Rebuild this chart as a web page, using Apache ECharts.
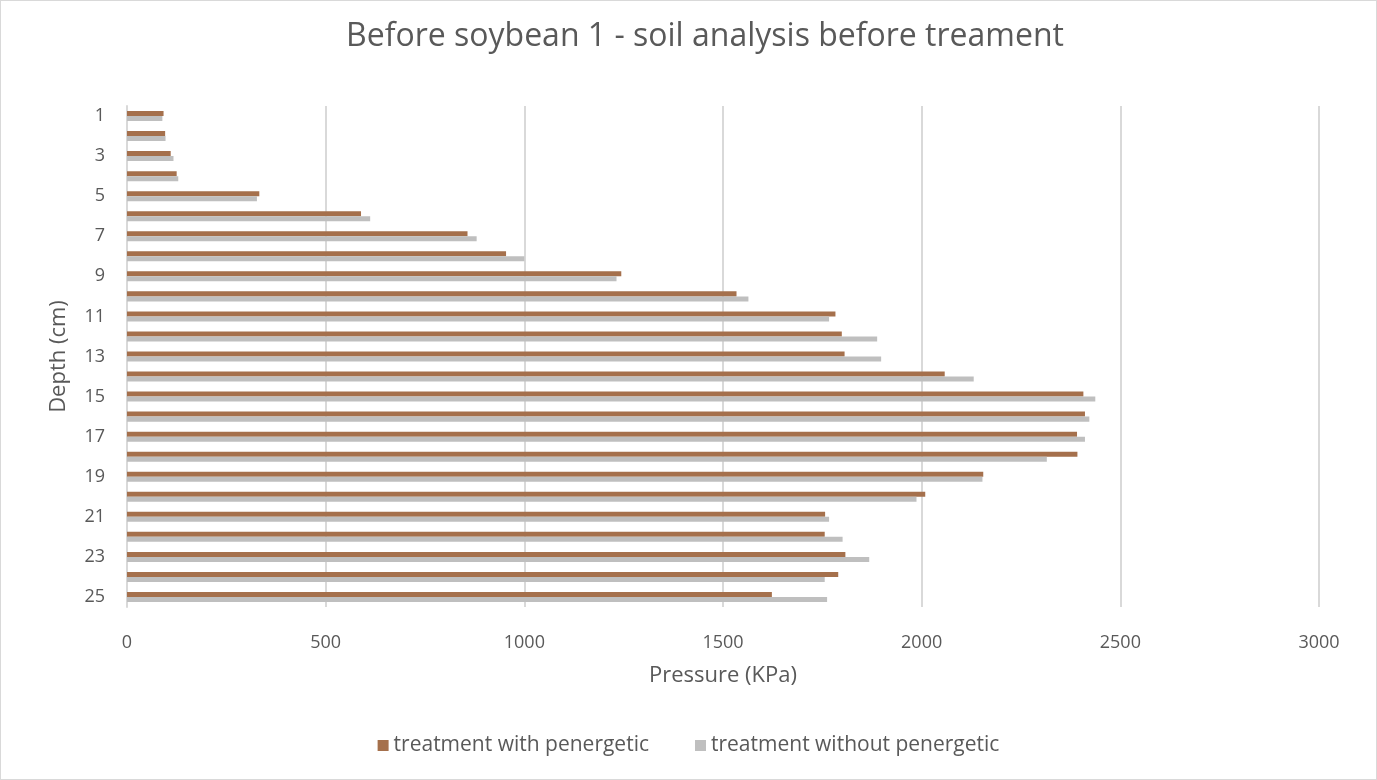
<!DOCTYPE html>
<html>
<head>
<meta charset="utf-8">
<script src="https://cdn.jsdelivr.net/npm/echarts@6/dist/echarts.min.js"></script>
<style>
  html, body { margin: 0; padding: 0; background: #fff; }
  #chart { width: 1375px; height: 778px; border: 1px solid #d9d9d9; }
</style>
</head>
<body>
<div id="chart"></div>
<script>
'use strict';
const depths = ['1', '2', '3', '4', '5', '6', '7', '8', '9', '10', '11', '12', '13',
    '14', '15', '16', '17', '18', '19', '20', '21', '22', '23', '24', '25'];
const withPenergetic = [92, 96, 110, 125, 333, 589, 857, 954, 1244, 1534, 1783, 1799, 1806,
    2058, 2407, 2411, 2391, 2392, 2155, 2009, 1757, 1756, 1808, 1790, 1623];
const withoutPenergetic = [89, 97, 117, 129, 327, 612, 880, 1000, 1232, 1564, 1767, 1888, 1898,
    2131, 2437, 2422, 2411, 2315, 2153, 1987, 1767, 1801, 1868, 1756, 1762];

const font = '"Open Sans", "Noto Sans", sans-serif';
const textGray = '#595959';

const chart = echarts.init(document.getElementById('chart'));
chart.setOption({
    animation: false,
    textStyle: { fontFamily: font },
    title: {
        text: 'Before soybean 1 - soil analysis before treament',
        left: 340,
        top: 15,
        textStyle: { fontSize: 32, fontWeight: 'normal', color: textGray, fontFamily: font }
    },
    legend: {
        bottom: 18,
        left: 'center',
        itemWidth: 11,
        itemHeight: 11,
        itemGap: 46,
        icon: 'rect',
        textStyle: { fontSize: 21, color: textGray, fontFamily: font },
        data: ['treatment with penergetic', 'treatment without penergetic']
    },
    grid: { left: 126, right: 57, top: 105, bottom: 172, containLabel: false },
    xAxis: {
        type: 'value',
        min: 0,
        max: 3000,
        interval: 500,
        name: 'Pressure (KPa)',
        nameLocation: 'middle',
        nameGap: 58,
        nameTextStyle: { fontSize: 22, color: textGray, fontFamily: font },
        axisLine: { show: false },
        axisTick: { show: false },
        axisLabel: { fontSize: 18, color: textGray, margin: 27, fontFamily: font,
            formatter: v => String(v) },
        splitLine: { lineStyle: { color: '#d9d9d9', width: 2 } }
    },
    yAxis: {
        type: 'category',
        inverse: true,
        data: depths,
        name: 'Depth (cm)',
        nameLocation: 'middle',
        nameGap: 57,
        nameTextStyle: { fontSize: 22, color: textGray, fontFamily: font },
        axisLine: { show: true, lineStyle: { color: '#d9d9d9', width: 2 } },
        axisTick: { show: false },
        axisLabel: { fontSize: 18, color: textGray, margin: 22, interval: 1, fontFamily: font }
    },
    series: [
        {
            name: 'treatment with penergetic',
            type: 'bar',
            data: withPenergetic,
            itemStyle: { color: '#a5704c' },
            barGap: '0%',
            barCategoryGap: '50%'
        },
        {
            name: 'treatment without penergetic',
            type: 'bar',
            data: withoutPenergetic,
            itemStyle: { color: '#bfbfbf' },
            barGap: '0%',
            barCategoryGap: '50%'
        }
    ]
});
</script>
</body>
</html>
